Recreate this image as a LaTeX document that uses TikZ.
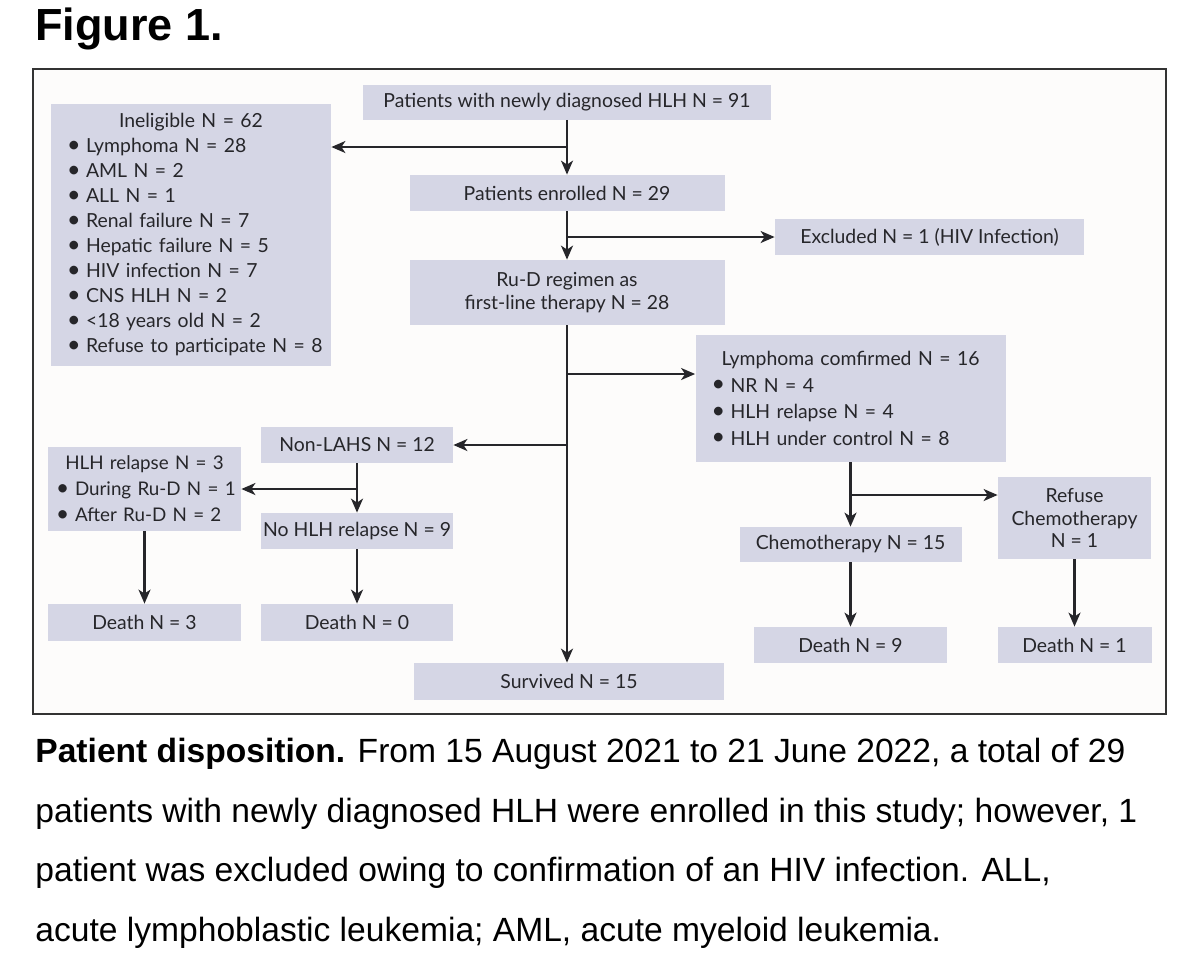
\documentclass[tikz,border=0pt]{standalone}
\usepackage{fontspec}
\setmainfont{Lato}
\newfontfamily\capfont{Liberation Sans}
\usepackage{xcolor}
\usetikzlibrary{arrows.meta, positioning}

\definecolor{boxfill}{RGB}{213,214,229}
\definecolor{inkgray}{RGB}{38,38,42}
\definecolor{panelbg}{RGB}{253,252,251}
\newcommand{\itm}[1]{\par\mbox{\makebox[9.5pt][l]{\raisebox{0.2pt}{\scalebox{1.2}{\textbullet}}}#1}}

\begin{document}
\begin{tikzpicture}[
    x=0.5pt, y=-0.5pt,
    box/.style={rectangle, fill=boxfill, inner sep=0pt, text=inkgray, align=center, font=\fontsize{9.7}{11.2}\selectfont},
    listbox/.style={rectangle, fill=boxfill, inner ysep=0pt, text=inkgray},
    arrow/.style={-{Stealth[length=7pt, width=6pt, inset=2pt]}, line width=1.1pt, draw=inkgray}
]
    \useasboundingbox (0,0) rectangle (1199,965);

    % Title and frame
    \node[anchor=base west, inner sep=0pt, font=\capfont\bfseries\fontsize{22.5}{27}\selectfont] (title) at (35,40) {Figure 1.};
    \draw[line width=0.7pt, draw=black!80, fill=panelbg] (33,69) rectangle (1166,714);

    % Main column
    \node[box, minimum width=204pt, minimum height=17.5pt] (diag) at (567,102) {Patients with newly diagnosed HLH N = 91};
    \node[box, minimum width=157.5pt, minimum height=18pt] (enrolled) at (567,193) {Patients enrolled N = 29};
    \node[box, minimum width=154.5pt, minimum height=18pt] (excluded) at (929.5,237) {Excluded N = 1 (HIV Infection)};
    \node[box, minimum width=157.5pt, minimum height=32.5pt] (rud) at (567,292.5) {Ru-D regimen as\\first-line therapy N = 28};
    \node[box, minimum width=155pt, minimum height=18.5pt] (survived) at (569,681.5) {Survived N = 15};

    % Ineligible list
    \node[listbox, inner xsep=8pt, text width=124pt, minimum height=131pt, font=\fontsize{9.7}{12.5}\selectfont] (inelig) at (191,235) {%
        \centering Ineligible N = 62\par\raggedright
        \itm{Lymphoma N = 28}
        \itm{AML N = 2}
        \itm{ALL N = 1}
        \itm{Renal failure N = 7}
        \itm{Hepatic failure N = 5}
        \itm{HIV infection N = 7}
        \itm{CNS HLH N = 2}
        \itm{<18 years old N = 2}
        \itm{Refuse to participate N = 8}\par};

    % Lymphoma branch
    \node[listbox, inner xsep=8pt, text width=139pt, minimum height=63.5pt, font=\fontsize{9.7}{13.25}\selectfont] (lym) at (850.5,398.5) {%
        \centering Lymphoma comfirmed N = 16\par\raggedright
        \itm{NR N = 4}
        \itm{HLH relapse N = 4}
        \itm{HLH under control N = 8}\par};
    \node[box, minimum width=111pt, minimum height=17.5pt] (chemo) at (850.5,544.5) {Chemotherapy N = 15};
    \node[box, minimum width=76.5pt, minimum height=41pt] (refuse) at (1074.5,518) {Refuse\\Chemotherapy\\N = 1};
    \node[box, minimum width=96.5pt, minimum height=18pt] (death9) at (850.5,645) {Death N = 9};
    \node[box, minimum width=77pt, minimum height=18pt] (death1) at (1074.5,645) {Death N = 1};

    % Non-LAHS branch
    \node[box, minimum width=96pt, minimum height=18pt] (nonlahs) at (357,445) {Non-LAHS N = 12};
    \node[listbox, inner xsep=4pt, text width=88.5pt, minimum height=42pt, font=\fontsize{9.4}{13}\selectfont] (hlhrel) at (144.5,489) {%
        \centering HLH relapse N = 3\par\raggedright
        \itm{During Ru-D N = 1}
        \itm{After Ru-D N = 2}\par};
    \node[box, minimum width=96pt, minimum height=18pt] (norel) at (357,531) {No HLH relapse N = 9};
    \node[box, minimum width=96.5pt, minimum height=18.5pt] (death3) at (144.5,622.5) {Death N = 3};
    \node[box, minimum width=96pt, minimum height=18.5pt] (death0) at (357,622.5) {Death N = 0};

    % Branch points
    \coordinate (j1) at (567,147);
    \coordinate (j2) at (567,374);
    \coordinate (j3) at (850.5,495);

    % Arrows
    \draw[arrow] (diag.south) -- (diag.south |- enrolled.north);
    \draw[arrow] (j1) -- (j1 -| inelig.east);
    \draw[arrow] (enrolled.south) -- (rud.north);
    \draw[arrow] (enrolled.south |- excluded.west) -- (excluded.west);
    \draw[arrow] (rud.south) -- (rud.south |- survived.north);
    \draw[arrow] (j2) -- (j2 -| lym.west);
    \draw[arrow] (rud.south |- nonlahs.east) -- (nonlahs.east);
    \draw[arrow] (nonlahs.south) -- (norel.north);
    \draw[arrow] (nonlahs.south |- hlhrel.east) -- (hlhrel.east);
    \draw[arrow] (hlhrel.south) -- (death3.north);
    \draw[arrow] (norel.south) -- (death0.north);
    \draw[arrow] (lym.south) -- (chemo.north);
    \draw[arrow] (j3) -- (j3 -| refuse.west);
    \draw[arrow] (chemo.south) -- (death9.north);
    \draw[arrow] (refuse.south) -- (death1.north);

    % Caption
    \node[anchor=north west, inner sep=0pt, align=left, font=\capfont\fontsize{16.8}{29.8}\selectfont] (caption) at (35,738) {%
        \textbf{Patient disposition.} From 15 August 2021 to 21 June 2022, a total of 29\\
        patients with newly diagnosed HLH were enrolled in this study; however, 1\\
        patient was excluded owing to confirmation of an HIV infection. ALL,\\
        acute lymphoblastic leukemia; AML, acute myeloid leukemia.};
\end{tikzpicture}
\end{document}
